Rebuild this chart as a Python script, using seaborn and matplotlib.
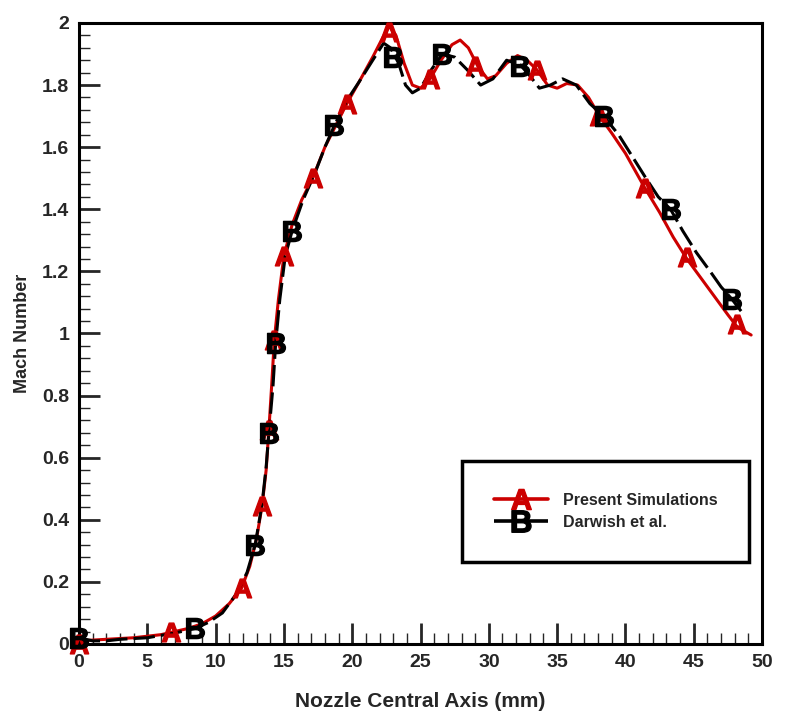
import numpy as np
import pandas as pd
import matplotlib
matplotlib.use("Agg")
import matplotlib.pyplot as plt
import seaborn as sns
from matplotlib.lines import Line2D
from matplotlib.ticker import MultipleLocator, FormatStrFormatter

# Present simulations (red curve)
sim_x = [0, 2, 4, 6, 7, 8, 9, 10, 11, 11.9, 12.5, 13.0, 13.4, 13.7, 13.9, 14.1, 14.3,
         14.6, 15.0, 15.6, 16.3, 17.1, 18.0, 18.8, 19.6, 20.5, 21.5, 22.2, 22.7, 23.2,
         23.8, 24.4, 25.0, 25.7, 26.5, 27.3, 27.9, 28.5, 29.2, 29.9, 30.5, 31.3, 32.1,
         32.8, 33.5, 34.3, 35.0, 35.7, 36.5, 37.3, 38.1, 39.0, 40.0, 41.4, 42.5, 43.5,
         44.5, 45.5, 46.5, 47.5, 48.2, 49.2]
sim_y = [0.01, 0.015, 0.02, 0.03, 0.04, 0.05, 0.065, 0.09, 0.13, 0.18, 0.25, 0.34, 0.445,
         0.56, 0.69, 0.83, 0.98, 1.11, 1.25, 1.35, 1.43, 1.50, 1.60, 1.67, 1.74, 1.81, 1.89,
         1.95, 1.99, 1.96, 1.87, 1.80, 1.79, 1.82, 1.88, 1.93, 1.945, 1.92, 1.86, 1.82, 1.83,
         1.87, 1.895, 1.88, 1.85, 1.80, 1.79, 1.805, 1.80, 1.76, 1.70, 1.645, 1.58, 1.47,
         1.39, 1.31, 1.24, 1.18, 1.12, 1.06, 1.02, 0.995]

# Darwish et al. (black dashed curve)
ref_x = [0, 1, 2, 3, 5, 7, 8.5, 9.5, 10.5, 11.5, 12.3, 12.9, 13.4, 13.7, 13.9, 14.2, 14.4,
         14.7, 15.1, 15.6, 16.4, 17.3, 18.0, 18.7, 19.6, 20.5, 21.5, 22.3, 22.8, 23.4, 23.9,
         24.4, 25.0, 25.8, 26.6, 27.5, 28.4, 29.4, 30.3, 31.3, 32.3, 33.0, 33.7, 34.5, 35.4,
         36.4, 37.4, 38.4, 39.5, 40.5, 41.5, 42.4, 43.3, 44.2, 45.2, 46.2, 47.0, 47.8, 48.5]
ref_y = [0.02, 0.01, 0.01, 0.015, 0.02, 0.035, 0.05, 0.07, 0.10, 0.16, 0.23, 0.32, 0.45,
         0.57, 0.68, 0.83, 0.97, 1.11, 1.25, 1.33, 1.43, 1.52, 1.60, 1.67, 1.75, 1.81, 1.88,
         1.935, 1.92, 1.87, 1.80, 1.775, 1.79, 1.85, 1.90, 1.89, 1.85, 1.80, 1.82, 1.88, 1.865,
         1.83, 1.79, 1.80, 1.82, 1.80, 1.74, 1.70, 1.64, 1.57, 1.50, 1.44, 1.40, 1.33, 1.26,
         1.20, 1.15, 1.11, 1.07]

# symbol positions
a_x = [0, 6.7, 11.9, 13.4, 13.9, 14.3, 15.0, 17.1, 19.6, 22.7, 25.7, 29.0, 33.5, 38.1, 41.4, 44.5, 48.2]
a_y = [0.0, 0.04, 0.18, 0.445, 0.69, 0.98, 1.25, 1.50, 1.74, 1.97, 1.82, 1.86, 1.85, 1.70, 1.47, 1.245, 1.03]
b_x = [0, 8.5, 12.9, 13.9, 14.4, 15.6, 18.7, 23.0, 26.6, 32.3, 38.4, 43.3, 47.8]
b_y = [0.02, 0.05, 0.32, 0.68, 0.97, 1.33, 1.67, 1.89, 1.90, 1.86, 1.70, 1.40, 1.11]

red = "#cc0000"
black = "#000000"

sns.set_style("ticks")
plt.rcParams['font.family'] = ['Liberation Sans', 'DejaVu Sans']
plt.rcParams['font.weight'] = 'bold'
plt.rcParams['axes.labelweight'] = 'bold'
plt.rcParams['mathtext.fontset'] = 'custom'
plt.rcParams['mathtext.bf'] = 'Liberation Sans:bold'

fig = plt.figure(figsize=(7.93, 7.2), dpi=100)
ax = fig.add_axes([0.0996, 0.1056, 0.8614, 0.8625])

sim = pd.DataFrame({"x": sim_x, "y": sim_y})
ref = pd.DataFrame({"x": ref_x, "y": ref_y})
sns.lineplot(data=sim, x="x", y="y", sort=False, estimator=None, color=red, lw=2.2, ax=ax, zorder=2)
sns.lineplot(data=ref, x="x", y="y", sort=False, estimator=None, color=black, lw=2.2, ax=ax,
             zorder=3, dashes=False)
ax.lines[-1].set_dashes((7, 2))

a_mark = r'$\mathbf{A}$'
b_mark = r'$\mathbf{B}$'
ax.plot(a_x, a_y, ls='none', marker=a_mark, ms=13.5, color=red, zorder=4, clip_on=False)
ax.plot(b_x, b_y, ls='none', marker=b_mark, ms=14.5, color=black, zorder=5, clip_on=False)

ax.set_xlim(0, 50)
ax.set_ylim(0, 2)
ax.xaxis.set_major_locator(MultipleLocator(5))
ax.xaxis.set_minor_locator(MultipleLocator(1))
ax.yaxis.set_major_locator(MultipleLocator(0.2))
ax.yaxis.set_minor_locator(MultipleLocator(0.04))
ax.yaxis.set_major_formatter(FormatStrFormatter('%g'))
ax.xaxis.set_major_formatter(FormatStrFormatter('%g'))
ax.tick_params(which='major', direction='in', length=15, width=2, labelsize=14, pad=7)
ax.tick_params(which='minor', direction='in', length=8, width=1)
ax.tick_params(top=False, right=False)
for s in ax.spines.values():
    s.set_linewidth(2.2)
    s.set_color('black')

ax.set_xlabel("Nozzle Central Axis (mm)", fontsize=15, labelpad=15)
ax.set_ylabel("Mach Number", fontsize=13, labelpad=8)

handles = [
    Line2D([], [], color=red, lw=2.6, marker=a_mark, ms=14.5),
    Line2D([], [], color=black, lw=2.6, marker=b_mark, ms=15.5, dashes=(7, 2)),
]
leg = ax.legend(handles, ["Present Simulations", "Darwish et al."], loc='lower left',
                bbox_to_anchor=(0.561, 0.132), numpoints=1, fontsize=11.5, frameon=True,
                fancybox=False, borderpad=2.0, handlelength=3.4, handletextpad=0.9,
                labelspacing=0.45, borderaxespad=0)
leg.get_frame().set_edgecolor('black')
leg.get_frame().set_linewidth(2.5)
leg.get_frame().set_alpha(1)

fig.savefig("out.png", dpi=100)
